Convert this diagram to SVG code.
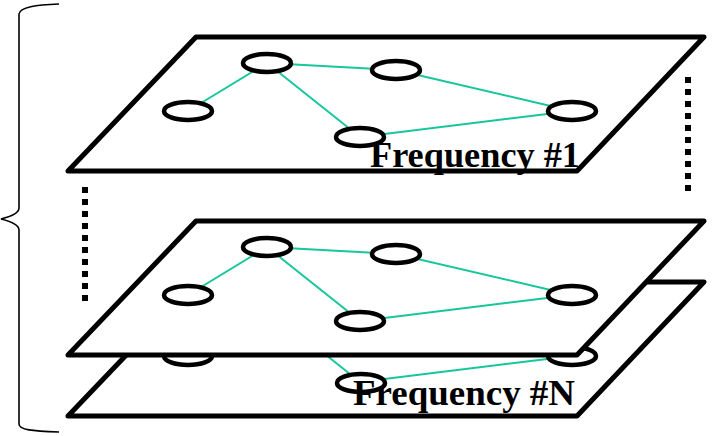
<svg xmlns="http://www.w3.org/2000/svg" width="721" height="436" viewBox="0 0 721 436">
  <style>
    .plane { fill: #ffffff; stroke: #000000; stroke-width: 5; stroke-linejoin: round; }
    .node { fill: #ffffff; stroke: #000000; stroke-width: 4.5; }
    .link { stroke: #17c79b; stroke-width: 2; fill: none; }
    .label { font-family: "Liberation Serif", "Times New Roman", serif; font-weight: bold; font-size: 36px; fill: #000000; }
    .dots { stroke: #000000; stroke-width: 6; stroke-dasharray: 6 6; fill: none; }
    .brace { stroke: #000000; stroke-width: 1.6; fill: none; }
  </style>

  <!-- Frequency layer N (back) -->
  <g id="layer-n" transform="translate(0,245)">
    <polygon class="plane" points="196,37 704,37 577,171 68,171"/>
    <g id="layer-n-links">
      <line class="link" x1="188" y1="111" x2="267" y2="63"/>
      <line class="link" x1="267" y1="63" x2="396" y2="70"/>
      <line class="link" x1="267" y1="63" x2="360" y2="137"/>
      <line class="link" x1="396" y1="70" x2="572" y2="111"/>
      <line class="link" x1="360" y1="137" x2="572" y2="111"/>
    </g>
    <g id="layer-n-a"><ellipse class="node" cx="188" cy="111" rx="24" ry="9"/></g>
    <g id="layer-n-b"><ellipse class="node" cx="267" cy="63" rx="24" ry="9"/></g>
    <g id="layer-n-c"><ellipse class="node" cx="396" cy="70" rx="24" ry="9"/></g>
    <g id="layer-n-d"><ellipse class="node" cx="361" cy="138" rx="24" ry="9"/></g>
    <g id="layer-n-e"><ellipse class="node" cx="572" cy="111" rx="24" ry="9"/></g>
    <text class="label" x="353" y="160" textLength="222" lengthAdjust="spacingAndGlyphs">Frequency #N</text>
  </g>

  <!-- Intermediate frequency layer -->
  <g id="layer-mid" transform="translate(0,184)">
    <polygon class="plane" points="196,37 704,37 577,171 68,171"/>
    <g id="layer-mid-links">
      <line class="link" x1="188" y1="111" x2="267" y2="63"/>
      <line class="link" x1="267" y1="63" x2="396" y2="70"/>
      <line class="link" x1="267" y1="63" x2="360" y2="137"/>
      <line class="link" x1="396" y1="70" x2="572" y2="111"/>
      <line class="link" x1="360" y1="137" x2="572" y2="111"/>
    </g>
    <g id="layer-mid-a"><ellipse class="node" cx="188" cy="111" rx="24" ry="9"/></g>
    <g id="layer-mid-b"><ellipse class="node" cx="267" cy="63" rx="24" ry="9"/></g>
    <g id="layer-mid-c"><ellipse class="node" cx="396" cy="70" rx="24" ry="9"/></g>
    <g id="layer-mid-d"><ellipse class="node" cx="360" cy="137" rx="24" ry="9"/></g>
    <g id="layer-mid-e"><ellipse class="node" cx="572" cy="111" rx="24" ry="9"/></g>
  </g>

  <!-- Frequency layer 1 (front) -->
  <g id="layer-1">
    <polygon class="plane" points="196,37 704,37 577,171 68,171"/>
    <g id="layer-1-links">
      <line class="link" x1="188" y1="111" x2="267" y2="63"/>
      <line class="link" x1="267" y1="63" x2="396" y2="70"/>
      <line class="link" x1="267" y1="63" x2="360" y2="137"/>
      <line class="link" x1="396" y1="70" x2="572" y2="111"/>
      <line class="link" x1="360" y1="137" x2="572" y2="111"/>
    </g>
    <g id="layer-1-a"><ellipse class="node" cx="188" cy="111" rx="24" ry="9"/></g>
    <g id="layer-1-b"><ellipse class="node" cx="267" cy="63" rx="24" ry="9"/></g>
    <g id="layer-1-c"><ellipse class="node" cx="396" cy="70" rx="24" ry="9"/></g>
    <g id="layer-1-d"><ellipse class="node" cx="360" cy="137" rx="24" ry="9"/></g>
    <g id="layer-1-e"><ellipse class="node" cx="572" cy="111" rx="24" ry="9"/></g>
    <text class="label" x="370" y="167" textLength="210" lengthAdjust="spacingAndGlyphs">Frequency #1</text>
  </g>

  <!-- ellipsis marks between layers -->
  <line class="dots" x1="85" y1="187" x2="85" y2="301"/>
  <line class="dots" x1="688" y1="77" x2="688" y2="193"/>

  <!-- brace grouping all layers -->
  <path class="brace" d="M59,4 C36,5 20,7 19,14 L19,208 C19,214 9,217 1,219 C9,221 19,224 19,230 L19,424 C19,430 32,431 59,432"/>
</svg>
